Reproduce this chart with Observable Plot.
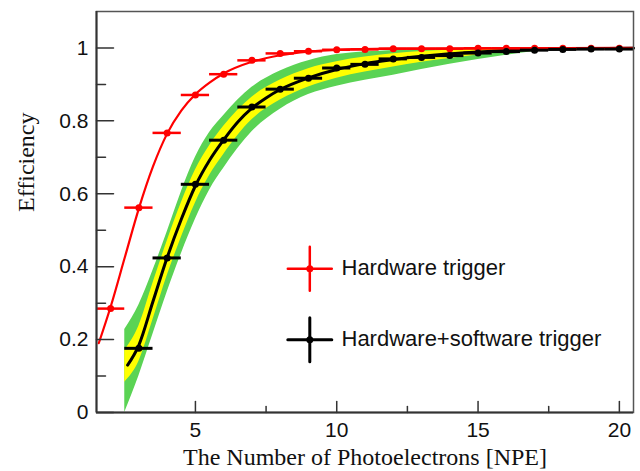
<!DOCTYPE html>
<html><head><meta charset="utf-8">
<script src="https://cdn.jsdelivr.net/npm/d3@7"></script>
<script src="https://cdn.jsdelivr.net/npm/@observablehq/plot@0.6"></script>
<style>html,body{margin:0;padding:0;background:#fff}#chart svg{display:block}</style>
</head><body><div id="chart"></div>
<script>
// ---- data ----
const hwX = [2,3,4,5,6,7,8,9,10,11,12,13,14,15,16,17,18,19,20];
const hwEff = [0.285,0.562,0.767,0.871,0.928,0.966,0.985,0.991,0.995,0.996,0.998,0.998,0.998,0.999,0.999,0.999,0.999,0.999,0.999];
const hwswX = [3,4,5,6,7,8,9,10,11,12,13,14,15,16,17,18,19,20];
const hwswEff = [0.176,0.424,0.626,0.747,0.838,0.887,0.917,0.945,0.955,0.970,0.974,0.979,0.986,0.990,0.994,0.996,0.997,0.997];
const binHalfWidth = 0.5;

const hwFitX = [1.58,2,2.5,3,3.5,4,4.5,5,5.5,6,7,8,9,10,12,15,20.5];
const hwFitY = [0.19,0.29,0.425,0.56,0.675,0.765,0.828,0.873,0.905,0.93,0.962,0.98,0.99,0.995,0.998,0.999,1.0];

const hwswFitX = [2.6,3,3.5,4,4.5,5,5.5,6,6.5,7,7.5,8,9,10,11,12,13,14,15,16,17,18,20.5];
const hwswFitY = [0.13,0.185,0.305,0.425,0.53,0.622,0.692,0.748,0.797,0.835,0.863,0.886,0.918,0.941,0.957,0.968,0.977,0.984,0.989,0.993,0.996,0.998,0.999];

const bandX      = [2.5,3,3.5,4,4.5,5,5.5,6,7,8,9,10,12,14,16,17.5,20.5];
const greenLow   = [0.0,0.10,0.215,0.33,0.435,0.53,0.61,0.67,0.77,0.832,0.872,0.895,0.925,0.955,0.98,0.994,0.999];
const greenHigh  = [0.228,0.295,0.39,0.495,0.605,0.70,0.768,0.815,0.892,0.937,0.965,0.982,0.993,0.997,0.998,0.999,0.999];
const yellowLow  = [0.083,0.14,0.255,0.375,0.48,0.575,0.65,0.708,0.803,0.857,0.893,0.917,0.948,0.971,0.988,0.997,0.999];
const yellowHigh = [0.17,0.237,0.355,0.47,0.575,0.665,0.732,0.785,0.865,0.912,0.943,0.962,0.984,0.994,0.997,0.999,0.999];

const xDomain = [1.5, 20.5];
const yDomain = [0, 1.1];
const xTicksMajor = [5,10,15,20];
const xTickLabels = ["5","10","15","20"];
const xTicksMinor = [7.5,12.5,17.5];
const yTicksMajor = [0,0.2,0.4,0.6,0.8,1];
const yTickLabels = ["0","0.2","0.4","0.6","0.8","1"];
const yTicksMinor = [0.1,0.3,0.5,0.7,0.9];
const legendLabels = ["Hardware trigger","Hardware+software trigger"];
const xTitle = "The Number of Photoelectrons [NPE]";
const yTitle = "Efficiency";

// ---- tables built from the arrays ----
const hwData = hwX.map((x,i)=>({x, y: hwEff[i]}));
const hwswData = hwswX.map((x,i)=>({x, y: hwswEff[i]}));
const hwFit = hwFitX.map((x,i)=>({x, y: hwFitY[i]}));
const hwswFit = hwswFitX.map((x,i)=>({x, y: hwswFitY[i]}));
const band = bandX.map((x,i)=>({x, gl: greenLow[i], gh: greenHigh[i], yl: yellowLow[i], yh: yellowHigh[i]}));

const RED = "#ff0000", GREEN = "#5ad354", YELLOW = "#ffff00";
const SANS = "Liberation Sans, Arial, sans-serif";
const SERIF = "Liberation Serif, Times New Roman, serif";

const tickShape = {draw(ctx, l){ ctx.moveTo(0,0); ctx.lineTo(0,-l); }};
const crossShape = {draw(ctx, l){ ctx.moveTo(-l,0); ctx.lineTo(l,0); ctx.moveTo(0,-l); ctx.lineTo(0,l); }};

const chart = Plot.plot({
  width: 640, height: 471,
  marginLeft: 96, marginRight: 7, marginTop: 11, marginBottom: 59,
  x: {domain: xDomain},
  y: {domain: yDomain},
  style: {background: "#fff", fontFamily: SANS},
  marks: [
    Plot.areaY(band, {x: "x", y1: "gl", y2: "gh", fill: GREEN, curve: "monotone-x"}),
    Plot.areaY(band, {x: "x", y1: "yl", y2: "yh", fill: YELLOW, curve: "monotone-x"}),
    Plot.line(hwFit, {x: "x", y: "y", stroke: RED, strokeWidth: 2.2, curve: "monotone-x"}),
    Plot.line(hwswFit, {x: "x", y: "y", stroke: "#000", strokeWidth: 3, curve: "monotone-x"}),
    Plot.ruleY(hwData, {y: "y", x1: d => d.x - binHalfWidth, x2: d => d.x + binHalfWidth, stroke: RED, strokeWidth: 2.5}),
    Plot.dot(hwData, {x: "x", y: "y", r: 3.5, fill: RED}),
    Plot.ruleY(hwswData, {y: "y", x1: d => d.x - binHalfWidth, x2: d => d.x + binHalfWidth, stroke: "#000", strokeWidth: 3}),
    Plot.dot(hwswData, {x: "x", y: "y", r: 3.5, fill: "#000"}),
    // legend
    Plot.vector([legendLabels[0]], {frameAnchor: "top-left", dx: 213.3, dy: 257.3, length: 22, anchor: "start", shape: crossShape, stroke: RED, strokeWidth: 2.5}),
    Plot.dot([legendLabels[0]], {frameAnchor: "top-left", dx: 213.3, dy: 257.3, r: 3.5, fill: RED}),
    Plot.text([legendLabels[0]], {frameAnchor: "top-left", dx: 245, dy: 256.5, textAnchor: "start", lineAnchor: "middle", fontSize: 22, fontFamily: SANS, fill: "#111"}),
    Plot.vector([legendLabels[1]], {frameAnchor: "top-left", dx: 213.3, dy: 328.3, length: 22, anchor: "start", shape: crossShape, stroke: "#000", strokeWidth: 3}),
    Plot.dot([legendLabels[1]], {frameAnchor: "top-left", dx: 213.3, dy: 328.3, r: 3.5, fill: "#000"}),
    Plot.text([legendLabels[1]], {frameAnchor: "top-left", dx: 245, dy: 327, textAnchor: "start", lineAnchor: "middle", fontSize: 22, fontFamily: SANS, fill: "#111"}),
    // frame and axes
    Plot.frame({stroke: "#555", strokeWidth: 1.5}),
    Plot.vector(yTicksMajor, {y: d => d, frameAnchor: "left", length: 17, rotate: 90, anchor: "start", shape: tickShape, stroke: "#333", strokeWidth: 1.5}),
    Plot.vector(yTicksMinor, {y: d => d, frameAnchor: "left", length: 9, rotate: 90, anchor: "start", shape: tickShape, stroke: "#333", strokeWidth: 1.5}),
    Plot.vector(xTicksMajor, {x: d => d, frameAnchor: "bottom", length: 11, rotate: 0, anchor: "start", shape: tickShape, stroke: "#333", strokeWidth: 1.5}),
    Plot.vector(xTicksMinor, {x: d => d, frameAnchor: "bottom", length: 6, rotate: 0, anchor: "start", shape: tickShape, stroke: "#333", strokeWidth: 1.5}),
    Plot.ruleX([xDomain[0]], {stroke: "#333", strokeWidth: 2}),
    Plot.ruleY([yDomain[0]], {stroke: "#333", strokeWidth: 2}),
    Plot.axisY(yTicksMajor, {tickSize: 0, tickPadding: 8, tickFormat: d => yTickLabels[yTicksMajor.indexOf(d)], fontSize: 21, fontFamily: SANS, fill: "#111", label: null}),
    Plot.axisX(xTicksMajor, {tickSize: 0, tickPadding: 10, tickFormat: d => xTickLabels[xTicksMajor.indexOf(d)], fontSize: 21, fontFamily: SANS, fill: "#111", label: null}),
    Plot.text([xTitle], {frameAnchor: "bottom", dy: 52, lineAnchor: "bottom", fontSize: 24, fontFamily: SERIF, fill: "#111"}),
    Plot.text([yTitle], {frameAnchor: "left", dx: -63, rotate: -90, lineAnchor: "bottom", fontSize: 24, fontFamily: SERIF, fill: "#111"})
  ]
});
document.getElementById("chart").appendChild(chart);
</script>
</body></html>
